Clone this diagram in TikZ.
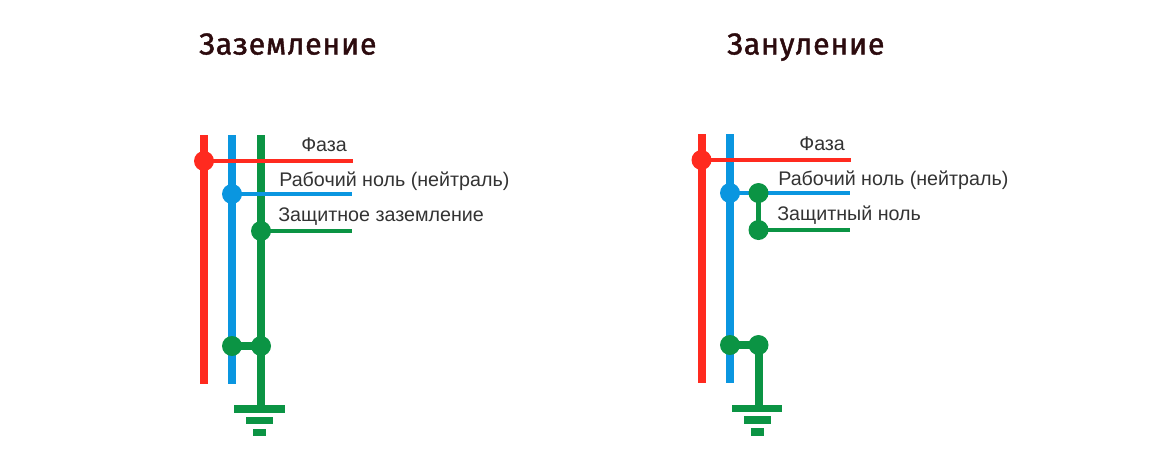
\documentclass[tikz,border=0pt]{standalone}
\usepackage{fontspec}
\setmainfont{Liberation Sans}
\newfontfamily\titlefont[LetterSpace=2.5,FakeBold=1.4]{Fira Sans}
\usetikzlibrary{positioning}
\definecolor{phasered}{HTML}{FF2A1F}
\definecolor{neutralblue}{HTML}{0A96E0}
\definecolor{earthgreen}{HTML}{0B9444}
\definecolor{titledark}{HTML}{2C0B0E}
\begin{document}
\begin{tikzpicture}[
x=0.025cm,y=-0.025cm,
font=\normalfont,
busbar/.style={line width=0.2cm},
branch/.style={line width=0.1cm},
link/.style={line width=0.19cm},
junction/.style={circle,inner sep=0pt,minimum size=0.5cm,fill=#1},
label/.style={anchor=base west,inner sep=0pt,font=\fontsize{14}{16}\selectfont,text=black!80},
heading/.style={anchor=base west,inner sep=0pt,font=\titlefont\fontsize{21.5}{26}\selectfont,text=titledark},
earthbar/.style={fill=earthgreen,draw=none}
]
    \useasboundingbox (0,0) rectangle (1170,468);

    % Left scheme
    \node (titleL) [heading] at (199,54.5) {Заземление};

    \draw
    (204,135) coordinate (redTopL)
    (204,384) coordinate (redEndL)
    (232,135) coordinate (blueTopL)
    (232,384) coordinate (blueEndL)
    (261,135) coordinate (greenTopL)
    (261,405) coordinate (greenEndL)
    (353,161) coordinate (redOutL)
    (352,194) coordinate (blueOutL)
    (352,231) coordinate (greenOutL);

    \draw[busbar,phasered] (redTopL) -- (redEndL);
    \draw[busbar,neutralblue] (blueTopL) -- (blueEndL);
    \draw[busbar,earthgreen] (greenTopL) -- (greenEndL);

    \node (dotRedL) [junction=phasered] at (204,161) {};
    \node (dotBlueL) [junction=neutralblue] at (232,194) {};
    \node (dotGreenL) [junction=earthgreen] at (261,231) {};
    \node (dotLowAL) [junction=earthgreen] at (232,346) {};
    \node (dotLowBL) [junction=earthgreen] at (261,346) {};

    \draw[branch,phasered] (dotRedL.center) -- (redOutL);
    \draw[branch,neutralblue] (dotBlueL.center) -- (blueOutL);
    \draw[branch,earthgreen] (dotGreenL.center) -- (greenOutL);
    \draw[link,earthgreen] (dotLowAL.center) -- (dotLowBL.center);

    \fill[earthbar] (234,404.5) rectangle (285,412.5);
    \fill[earthbar] (246,416.5) rectangle (273,424);
    \fill[earthbar] (253,428.5) rectangle (266,436);

    \node (phaseL) [label] at (301,151) {Фаза};
    \node (neutralL) [label] at (279,186) {Рабочий ноль (нейтраль)};
    \node (earthL) [label] at (278,221) {Защитное заземление};

    % Right scheme
    \node (titleR) [heading] at (727,54.5) {Зануление};

    \draw
    (701.5,134) coordinate (redTopR)
    (701.5,383) coordinate (redEndR)
    (730,134) coordinate (blueTopR)
    (730,383) coordinate (blueEndR)
    (851,160) coordinate (redOutR)
    (850,193) coordinate (blueOutR)
    (850,230) coordinate (greenOutR)
    (758.5,405) coordinate (greenEndR);

    \draw[busbar,phasered] (redTopR) -- (redEndR);
    \draw[busbar,neutralblue] (blueTopR) -- (blueEndR);

    \node (dotRedR) [junction=phasered] at (701.5,160) {};
    \node (dotBlueR) [junction=neutralblue] at (730,193) {};
    \draw[branch,phasered] (dotRedR.center) -- (redOutR);
    \draw[branch,neutralblue] (dotBlueR.center) -- (blueOutR);

    \node (dotTopR) [junction=earthgreen] at (758.5,193) {};
    \node (dotGreenR) [junction=earthgreen] at (758.5,230) {};
    \node (dotLowAR) [junction=earthgreen] at (730,345) {};
    \node (dotLowBR) [junction=earthgreen] at (758.5,345) {};

    \draw[branch,earthgreen,line width=0.14cm] (dotTopR.center) -- (dotGreenR.center);
    \draw[branch,earthgreen] (dotGreenR.center) -- (greenOutR);
    \draw[link,earthgreen] (dotLowAR.center) -- (dotLowBR.center);
    \draw[busbar,earthgreen] (dotLowBR.center) -- (greenEndR);

    \fill[earthbar] (732,404.5) rectangle (782,412);
    \fill[earthbar] (744,416) rectangle (771,424);
    \fill[earthbar] (751,428) rectangle (764,435.5);

    \node (phaseR) [label] at (799,150) {Фаза};
    \node (neutralR) [label] at (778,185) {Рабочий ноль (нейтраль)};
    \node (earthR) [label] at (777,220) {Защитный ноль};

\end{tikzpicture}
\end{document}
